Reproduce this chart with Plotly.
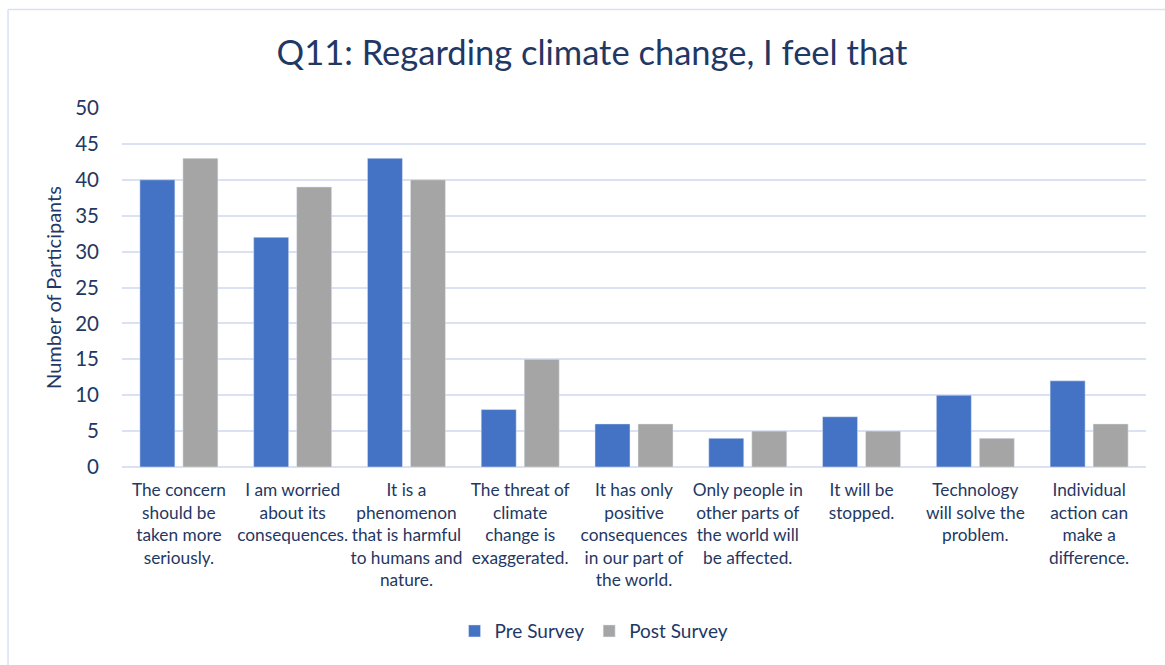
import plotly.graph_objects as go

# Survey statements (x categories) and participant counts per survey round
statements = [
    "The concern<br>should be<br>taken more<br>seriously.",
    "I am worried<br>about its<br>consequences.",
    "It is a<br>phenomenon<br>that is harmful<br>to humans and<br>nature.",
    "The threat of<br>climate<br>change is<br>exaggerated.",
    "It has only<br>positive<br>consequences<br>in our part of<br>the world.",
    "Only people in<br>other parts of<br>the world will<br>be affected.",
    "It will be<br>stopped.",
    "Technology<br>will solve the<br>problem.",
    "Individual<br>action can<br>make a<br>difference.",
]
pre_survey = [40, 32, 43, 8, 6, 4, 7, 10, 12]
post_survey = [43, 39, 40, 15, 6, 5, 5, 4, 6]
y_ticks = [0, 5, 10, 15, 20, 25, 30, 35, 40, 45, 50]

NAVY = "#1F3864"
GRID = "#D9E1F2"
FONT = "Lato, Carlito, Calibri, sans-serif"

fig = go.Figure()
fig.add_trace(go.Bar(name="Pre Survey", x=statements, y=pre_survey,
                     marker=dict(color="#4472C4")))
fig.add_trace(go.Bar(name="Post Survey", x=statements, y=post_survey,
                     marker=dict(color="#A5A5A5")))

fig.update_layout(
    width=1165,
    height=665,
    margin=dict(l=122, r=19, t=108, b=198),
    paper_bgcolor="white",
    plot_bgcolor="white",
    barmode="group",
    bargap=0.244,
    bargroupgap=0.186,
    font=dict(family=FONT, color=NAVY),
    title=dict(
        text="Q11: Regarding climate change, I feel that",
        font=dict(size=34.5, color=NAVY, family=FONT),
        x=592 / 1165, xanchor="center", xref="container",
        y=1 - 53 / 665, yanchor="middle", yref="container",
    ),
    legend=dict(
        orientation="h",
        x=0.461, xanchor="center",
        y=-0.457, yanchor="middle",
        font=dict(size=19, color=NAVY),
        itemwidth=30,
        traceorder="normal",
    ),
    xaxis=dict(
        showgrid=False,
        showline=False,
        tickfont=dict(size=17.3, color=NAVY),
        tickangle=0,
        ticks="",
        ticklabelstandoff=11,
    ),
    yaxis=dict(
        range=[0, 50],
        tickvals=y_ticks,
        showgrid=True,
        gridcolor=GRID,
        gridwidth=1.5,
        zeroline=True,
        zerolinecolor=GRID,
        zerolinewidth=1.5,
        showline=False,
        ticks="",
        ticklabelstandoff=22,
        tickfont=dict(size=20.5, color=NAVY),
        title=dict(text="Number of Participants",
                   font=dict(size=20, color=NAVY), standoff=8),
    ),
    shapes=[
        # chart frame: top and left edges
        dict(type="line", xref="paper", yref="paper",
             x0=-0.1113, x1=1.03, y0=1.2744, y1=1.2744,
             line=dict(color=GRID, width=1.5)),
        dict(type="line", xref="paper", yref="paper",
             x0=-0.1113, x1=-0.1113, y0=1.2744, y1=-0.6,
             line=dict(color=GRID, width=1.5)),
    ],
)

fig.write_html("out.html")
